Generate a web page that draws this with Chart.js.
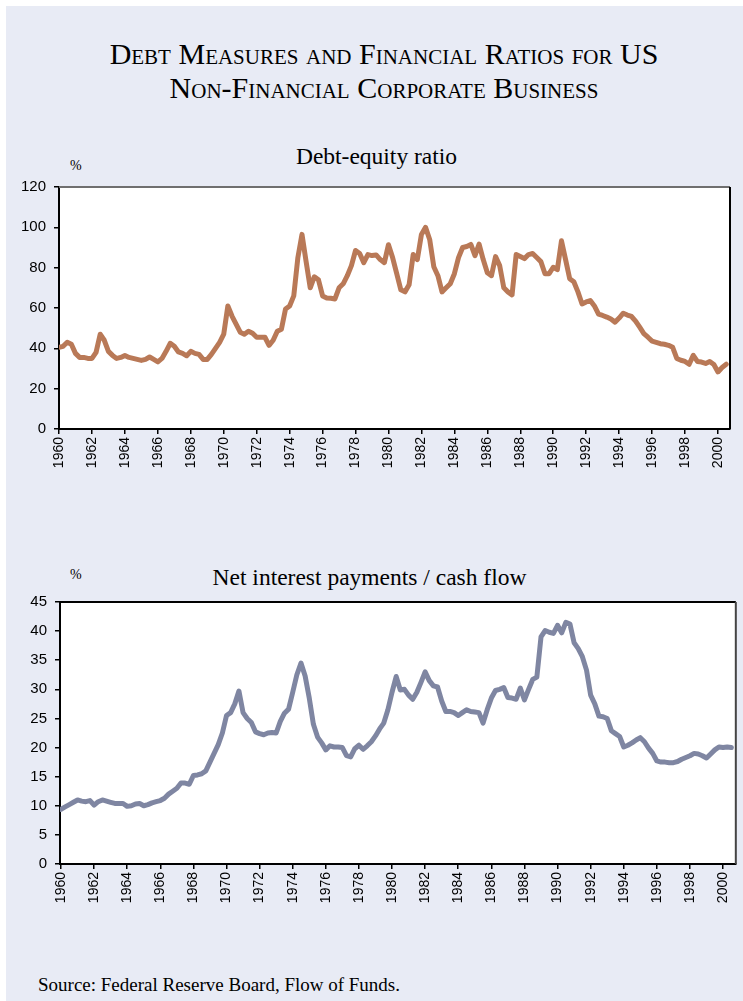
<!DOCTYPE html>
<html><head><meta charset="utf-8">
<script src="https://cdn.jsdelivr.net/npm/chart.js@4.4.1/dist/chart.umd.min.js"></script>
<style>
html,body{margin:0;padding:0;background:#fff;width:743px;height:1001px;overflow:hidden;}
#panel{position:absolute;left:6px;top:6px;width:737px;height:995px;background:#e8ebf5;}
.t{position:absolute;font-family:"Liberation Serif","Times New Roman",serif;color:#000;white-space:nowrap;}
#title{left:0;width:768px;top:37px;text-align:center;font-size:30px;line-height:34px;font-variant:small-caps;}
.sub{font-size:23.5px;text-align:center;}
.pct{font-size:14px;}
canvas{position:absolute;left:0;}
</style></head>
<body>
<div id="panel"></div>
<div class="t" id="title">Debt Measures and Financial Ratios for US<br>Non-Financial Corporate Business</div>
<div class="t sub" style="left:0;width:753px;top:143px;">Debt-equity ratio</div>
<div class="t pct" style="left:70px;top:158px;">%</div>
<div class="t sub" style="left:0;width:739px;top:564px;">Net interest payments / cash flow</div>
<div class="t pct" style="left:70px;top:567px;">%</div>
<div class="t" style="left:38px;top:974px;font-size:19px;">Source: Federal Reserve Board, Flow of Funds.</div>
<div style="position:absolute;left:0;top:170px;width:743px;height:320px;"><canvas id="c1" width="743" height="320"></canvas></div>
<div style="position:absolute;left:0;top:585px;width:743px;height:340px;"><canvas id="c2" width="743" height="340"></canvas></div>
<script>
// quarterly observations, first quarter 1960
const startYear = 1960;
const xTickLabels = [1960,1962,1964,1966,1968,1970,1972,1974,1976,1978,1980,1982,1984,1986,1988,1990,1992,1994,1996,1998,2000];
const debtEquity = [
 40.5,41,43,42, 37.5,35.5,35.5,35, 35,38,47,44, 38.5,36.5,35,35.5,
 36.5,35.5,35,34.5, 34,34.5,35.7,34.5, 33.3,35,38.5,42.5, 41,38.2,37.5,36.3,
 38.5,37.5,37,34.5, 34.5,37,40,43, 47,61,56,52, 48,47,48.5,47.5,
 45.5,45.5,45.5,41.5, 44,48.5,49.5,59.5, 61,66,85,96.5, 83,70,75.5,74,
 66,65,64.8,64.5, 70,72,76,81, 88.5,87,82.5,86.5, 86,86.3,84,82.5,
 91.4,85,77,69, 68,71.5,86.5,84, 96.5,100,94,80.5, 76,68,70,72,
 77,85,90,90.5, 91.5,86,91.7,84, 77.5,76,85.5,81, 70,68,66.5,86.5,
 85.5,84.5,86.5,87, 85,83,77,77, 80.2,79,93.3,84, 74.5,73,68,62,
 63,63.7,61,57, 56.3,55.5,54.5,53, 55,57.4,56.5,55.8, 53.5,50.5,47.3,45.5,
 43.6,43,42.3,42, 41.5,40.5,35,34.1, 33.5,32.1,36.5,33.5, 33.2,32.5,33.5,32,
 28.3,30.5,32.1
];
const interestCashFlow = [
 9.4,9.8,10.2,10.6, 11.0,10.8,10.7,10.9, 10.1,10.7,11.0,10.8, 10.6,10.4,10.4,10.4,
 9.9,10.0,10.3,10.4, 10.0,10.2,10.5,10.7, 10.9,11.3,12.0,12.5, 13.0,13.9,13.9,13.7,
 15.2,15.3,15.5,16.0, 17.5,19.0,20.5,22.5, 25.5,26.0,27.5,29.7, 26.0,25.0,24.3,22.7,
 22.4,22.2,22.5,22.6, 22.5,24.5,25.9,26.6, 29.5,32.5,34.5,32.3, 28.5,24.0,21.8,20.8,
 19.6,20.3,20.1,20.1, 20.0,18.6,18.4,19.8, 20.4,19.7,20.3,21.0, 22.0,23.2,24.2,26.5,
 29.5,32.2,29.9,30.0, 29.0,28.3,29.5,31.2, 33.0,31.5,30.6,30.4, 28.0,26.2,26.2,26.0,
 25.5,26.0,26.5,26.2, 26.1,26.0,24.2,26.5, 28.5,29.8,30.0,30.3, 28.6,28.5,28.3,30.2,
 28.2,30.0,31.7,32.1, 39.0,40.1,39.8,39.6, 41.0,39.7,41.5,41.2, 38.0,37.0,35.6,33.3,
 29.0,27.5,25.4,25.3, 25.0,22.9,22.4,21.9, 20.1,20.4,20.8,21.3, 21.7,21.0,19.9,19.0,
 17.7,17.5,17.5,17.4, 17.4,17.6,18.0,18.3, 18.6,19.0,18.9,18.6, 18.2,18.9,19.6,20.1,
 20.0,20.1,20.0
];
const yTicksTop = [0,20,40,60,80,100,120];
const yTicksBottom = [0,5,10,15,20,25,30,35,40,45];

function toPoints(arr){ return arr.map((v,i)=>({x:startYear+i*0.25, y:v})); }

function framePlugin(topColor, rightColor){
  return {
    id:'frame',
    beforeDraw(chart){
      const {ctx, chartArea:a} = chart;
      ctx.save(); ctx.fillStyle='#ffffff'; ctx.fillRect(a.left,a.top,a.width,a.height); ctx.restore();
    },
    afterDatasetsDraw(chart){
      const {ctx, chartArea:a} = chart;
      ctx.save();
      ctx.lineWidth=2;
      ctx.strokeStyle=topColor; ctx.beginPath(); ctx.moveTo(a.left,a.top); ctx.lineTo(a.right,a.top); ctx.stroke();
      ctx.strokeStyle=rightColor; ctx.beginPath(); ctx.moveTo(a.right,a.top); ctx.lineTo(a.right,a.bottom); ctx.stroke();
      ctx.restore();
    }
  };
}

function makeChart(id, data, color, yTicks, xmin, xmax, yWidth, xHeight, padTop, padRight, topColor, rightColor){
  const tickFont = {family:'"Liberation Sans", Arial, sans-serif', size:15};
  return new Chart(document.getElementById(id), {
    type:'line',
    data:{datasets:[{data:toPoints(data), borderColor:color, borderWidth:5, pointRadius:0, tension:0, fill:false, borderJoinStyle:'round', borderCapStyle:'round'}]},
    options:{
      responsive:false, animation:false, devicePixelRatio:1,
      layout:{padding:{top:padTop, right:padRight, left:0, bottom:0}},
      plugins:{legend:{display:false}, tooltip:{enabled:false}},
      scales:{
        x:{type:'linear', min:xmin, max:xmax,
           afterBuildTicks(s){ s.ticks = xTickLabels.map(v=>({value:v})); },
           afterFit(s){ s.height = xHeight; },
           ticks:{color:'#000', font:{family:'"Liberation Sans", Arial, sans-serif', size:14}, maxRotation:90, minRotation:90, padding:3, autoSkip:false, callback:v=>String(v)},
           grid:{display:true, drawOnChartArea:false, drawTicks:true, tickLength:5, color:'#000', lineWidth:1.5},
           border:{display:true, color:'#000', width:2}},
        y:{min:yTicks[0], max:yTicks[yTicks.length-1],
           afterBuildTicks(s){ s.ticks = yTicks.map(v=>({value:v})); },
           afterFit(s){ s.width = yWidth; },
           ticks:{color:'#000', font:tickFont, padding:8, callback:v=>String(v)},
           grid:{display:true, drawOnChartArea:false, drawTicks:true, tickLength:5, color:'#000', lineWidth:1.5},
           border:{display:true, color:'#000', width:2}}
      }
    },
    plugins:[framePlugin(topColor, rightColor)]
  });
}

makeChart('c1', debtEquity, '#b97957', yTicksTop, 1960, 2000.73, 59, 61, 16, 13, '#6f6f6f', '#000');
makeChart('c2', interestCashFlow, '#7f86a2', yTicksBottom, 1959.94, 2000.77, 60, 61, 17, 7, '#000', '#444');
</script>
</body></html>
